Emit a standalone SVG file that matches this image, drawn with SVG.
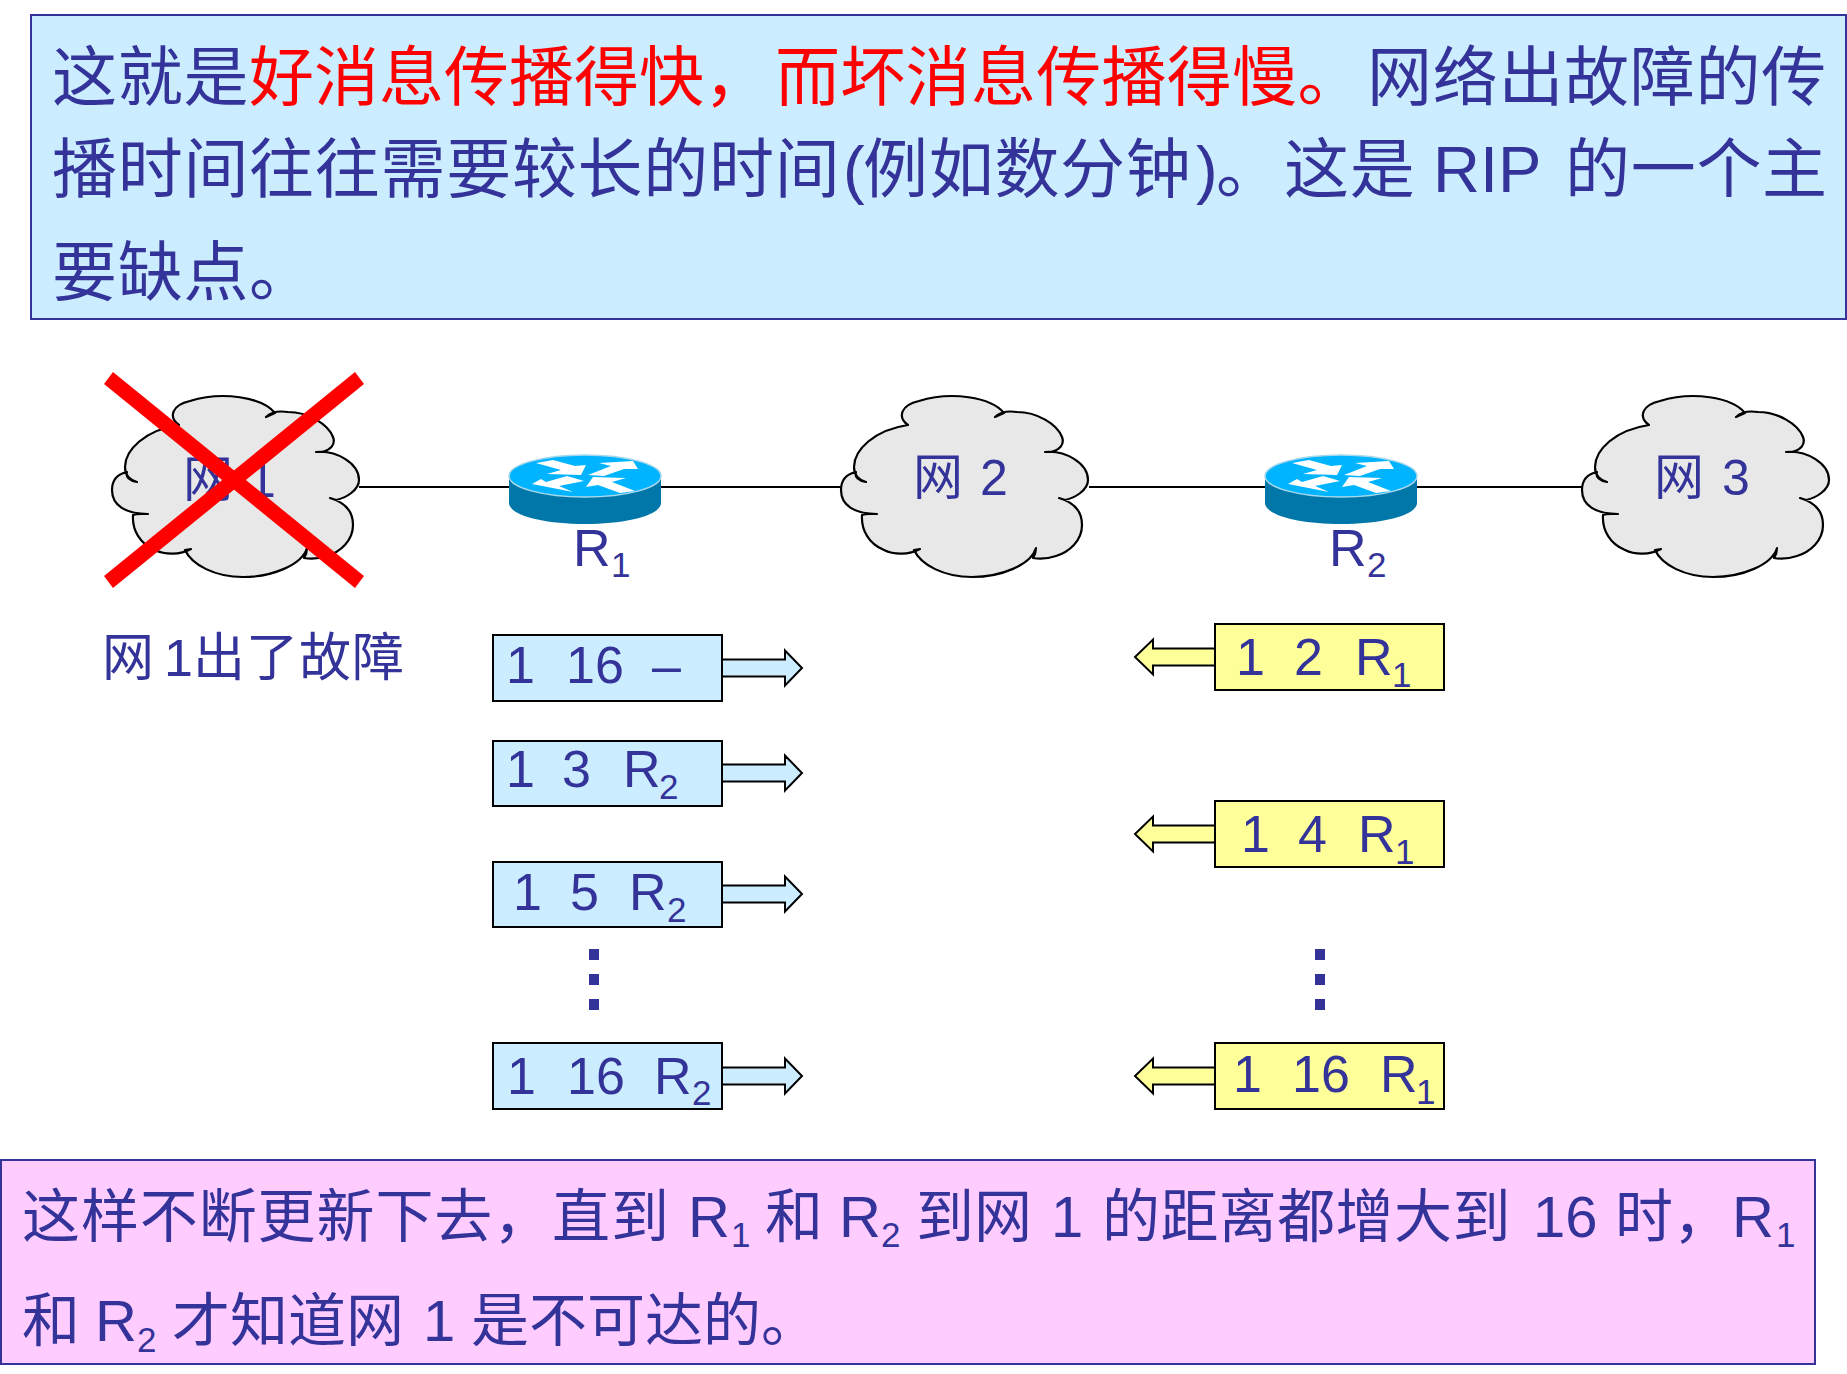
<svg xmlns="http://www.w3.org/2000/svg" width="1847" height="1374" viewBox="0 0 1847 1374">
<style>
text{font-family:"Liberation Sans","Noto Sans CJK SC",sans-serif;fill:#333399}
.cjk{font-family:"Noto Sans CJK SC","Liberation Sans",sans-serif}
.t{font-size:65px}.b{font-size:58px}.n{font-size:50px}.r{font-size:52px}.s{font-size:35px}
.red{fill:#ff0000}
.banner{stroke:#333399;stroke-width:2}
.box{stroke:#000;stroke-width:2}
.blue{fill:#CCECFF}.yellow{fill:#FFFF99}
.cloud{fill:#E8E8E8;stroke:#000;stroke-width:2.2;stroke-linejoin:round}
.link{stroke:#000;stroke-width:2;fill:none}
.dot{fill:#333399}
</style>
<defs>
<path id="cloudShape" class="cloud" d="M179 425C168 417 172 405 190 401C222 391 262 397 275 413L266 417C272 411 281 411 288 412C308 412 328 424 333 437C336 445 330 450 322 452L316 452C336 450 359 463 359 480C359 490 346 498 336 500L330 498C344 502 353 511 353 525C353 541 340 552 327 556C318 559 310 559 304 558C306 555 307 552 307 548C302 565 272 577 243 577C215 577 192 565 185 550L191 549C180 555 165 555 155 550C140 544 132 530 133 515C137 513 143 514 148 514C125 514 112 505 112 490C112 480 118 474 127 472C125 477 130 481 137 482C130 480 125 475 125 467C125 450 145 430 179 425Z"/>
<g id="routerShape">
<path d="M509 476V503C509 515 543 524 585 524C627 524 661 515 661 503V476Z" fill="#0077A8"/>
<ellipse cx="585" cy="476" rx="76" ry="21" fill="#00B4FF" stroke="#A8D8EC" stroke-width="1.5"/>
<polygon fill="#fff" points="536,463 553,460 575,466 586,465 581,475 547,474 561,470"/>
<polygon fill="#fff" points="638,469 633,461 599,463 611,466 588,475 604,476 624,469"/>
<polygon fill="#fff" points="532,484 573,492 559,486 584,481 567,476 546,482 541,479"/>
<polygon fill="#fff" points="635,491 620,493 598,485 586,487 593,477 626,478 612,482"/>
</g>
<polygon id="arrowR" class="blue box" points="0,-8.5 63,-8.5 63,-17.5 80,0 63,17.5 63,8.5 0,8.5"/>
<polygon id="arrowL" class="yellow box" points="0,-8.5 -62,-8.5 -62,-17.5 -80,0 -62,17.5 -62,8.5 0,8.5"/>
</defs>
<rect width="1847" height="1374" fill="#fff"/>

<g id="top-note">
<rect class="banner blue" x="31" y="15" width="1815" height="304"/>
<text class="t cjk" y="100"><tspan x="52" letter-spacing="0.7">这就是</tspan><tspan x="249" style="fill:#ff0000">好消息传播得快，</tspan><tspan x="775" style="fill:#ff0000" letter-spacing="0.3">而坏消息传播得慢。</tspan><tspan x="1367" letter-spacing="0.7">网络出故障的传</tspan></text>
<text class="t" y="192"><tspan class="cjk" x="52" letter-spacing="0.7">播时间往往需要较长的时间</tspan><tspan x="843">(</tspan><tspan class="cjk" x="863" letter-spacing="0.7">例如数分钟</tspan><tspan x="1196">)</tspan><tspan class="cjk" x="1216">。</tspan><tspan class="cjk" x="1284" letter-spacing="0.7">这是</tspan><tspan x="1433">RIP</tspan><tspan class="cjk" x="1565" letter-spacing="0.7">的一个主</tspan></text>
<text class="t cjk" y="295" x="52" letter-spacing="0.7">要缺点。</text>
</g>

<g id="connectors">
<line class="link" x1="359" y1="487" x2="510" y2="487"/>
<line class="link" x1="660" y1="487" x2="841" y2="487"/>
<line class="link" x1="1089" y1="487" x2="1266" y2="487"/>
<line class="link" x1="1416" y1="487" x2="1582" y2="487"/>
</g>

<g id="net1">
<use href="#cloudShape"/>
<text class="n" y="497"><tspan class="cjk" x="183">网</tspan><tspan x="248">1</tspan></text>
<polygon fill="#ff0000" points="113,372 104,384 355,588 364,576"/>
<polygon fill="#ff0000" points="355,372 364,384 113,588 104,576"/>
</g>
<g id="net2">
<use href="#cloudShape" transform="translate(729 0)"/>
<text class="n" y="495"><tspan class="cjk" x="913">网</tspan><tspan x="980">2</tspan></text>
</g>
<g id="net3">
<use href="#cloudShape" transform="translate(1470 0)"/>
<text class="n" y="495"><tspan class="cjk" x="1654">网</tspan><tspan x="1722">3</tspan></text>
</g>

<g id="router1">
<use href="#routerShape"/>
<text class="r" x="573" y="566">R</text><text class="s" x="611" y="577">1</text>
</g>
<g id="router2">
<use href="#routerShape" transform="translate(756 0)"/>
<text class="r" x="1329" y="566">R</text><text class="s" x="1367" y="577">2</text>
</g>

<g id="failure-label">
<text class="r" y="676"><tspan class="cjk" x="102">网</tspan><tspan x="164">1</tspan><tspan class="cjk" x="193" letter-spacing="1">出了故障</tspan></text>
</g>

<g id="r1-msg1">
<rect class="blue box" x="493" y="635" width="229" height="66"/>
<use href="#arrowR" x="722" y="668"/>
<text class="r" y="683"><tspan x="506">1</tspan><tspan x="566">16</tspan><tspan x="652">–</tspan></text>
</g>
<g id="r1-msg2">
<rect class="blue box" x="493" y="741" width="229" height="65"/>
<use href="#arrowR" x="722" y="773"/>
<text class="r" y="787"><tspan x="506">1</tspan><tspan x="562">3</tspan><tspan x="623">R</tspan></text><text class="s" x="659" y="799">2</text>
</g>
<g id="r1-msg3">
<rect class="blue box" x="493" y="862" width="229" height="65"/>
<use href="#arrowR" x="722" y="894"/>
<text class="r" y="910"><tspan x="513">1</tspan><tspan x="570">5</tspan><tspan x="629">R</tspan></text><text class="s" x="667" y="922">2</text>
</g>
<g id="r1-msg4">
<rect class="blue box" x="493" y="1043" width="229" height="66"/>
<use href="#arrowR" x="722" y="1076"/>
<text class="r" y="1094"><tspan x="507">1</tspan><tspan x="567">16</tspan><tspan x="654">R</tspan></text><text class="s" x="692" y="1105">2</text>
</g>
<g id="r1-dots">
<rect class="dot" x="589" y="949" width="10" height="11"/><rect class="dot" x="589" y="974" width="10" height="11"/><rect class="dot" x="589" y="999" width="10" height="11"/>
</g>

<g id="r2-msg1">
<rect class="yellow box" x="1215" y="624" width="229" height="66"/>
<use href="#arrowL" x="1215" y="657"/>
<text class="r" y="675"><tspan x="1236">1</tspan><tspan x="1294">2</tspan><tspan x="1355">R</tspan></text><text class="s" x="1392" y="687">1</text>
</g>
<g id="r2-msg2">
<rect class="yellow box" x="1215" y="801" width="229" height="66"/>
<use href="#arrowL" x="1215" y="834"/>
<text class="r" y="852"><tspan x="1241">1</tspan><tspan x="1298">4</tspan><tspan x="1358">R</tspan></text><text class="s" x="1395" y="864">1</text>
</g>
<g id="r2-msg3">
<rect class="yellow box" x="1215" y="1043" width="229" height="66"/>
<use href="#arrowL" x="1215" y="1076"/>
<text class="r" y="1092"><tspan x="1233">1</tspan><tspan x="1292">16</tspan><tspan x="1380">R</tspan></text><text class="s" x="1416" y="1104">1</text>
</g>
<g id="r2-dots">
<rect class="dot" x="1315" y="949" width="10" height="11"/><rect class="dot" x="1315" y="974" width="10" height="11"/><rect class="dot" x="1315" y="999" width="10" height="11"/>
</g>

<g id="bottom-note">
<rect class="banner" fill="#FFCCFF" x="1" y="1160" width="1814" height="204"/>
<text class="b" y="1237"><tspan class="cjk" x="22" letter-spacing="0.9">这样不断更新下去，直到</tspan><tspan x="688">R</tspan><tspan class="cjk" x="765">和</tspan><tspan x="839">R</tspan><tspan class="cjk" x="916">到网</tspan><tspan x="1051">1</tspan><tspan class="cjk" x="1102" letter-spacing="0.4">的距离都增大到</tspan><tspan x="1533">16</tspan><tspan class="cjk" x="1615">时，</tspan><tspan x="1732">R</tspan></text>
<text class="s" y="1247"><tspan x="731">1</tspan><tspan x="881">2</tspan><tspan x="1776">1</tspan></text>
<text class="b" y="1341"><tspan class="cjk" x="22">和</tspan><tspan x="95">R</tspan><tspan class="cjk" x="172">才知道网</tspan><tspan x="423">1</tspan><tspan class="cjk" x="471">是不可达的。</tspan></text>
<text class="s" x="137" y="1352">2</text>
</g>
</svg>
